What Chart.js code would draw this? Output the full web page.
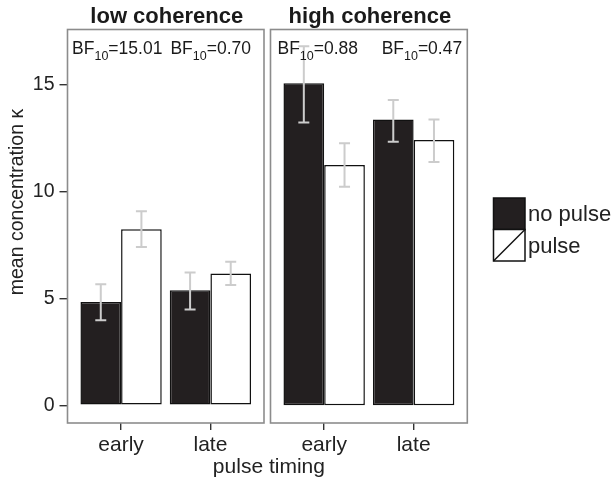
<!DOCTYPE html>
<html>
<head>
<meta charset="utf-8">
<script src="https://cdn.jsdelivr.net/npm/chart.js@4.4.1/dist/chart.umd.min.js"></script>
<style>
  body { margin: 0; background: #fff; }
  #wrap { position: relative; width: 613px; height: 480px; }
  #wrap canvas { position: absolute; left: 0; top: 0; }
</style>
</head>
<body>
<div id="wrap">
  <canvas id="lowChart" width="613" height="480"></canvas>
  <canvas id="highChart" width="613" height="480"></canvas>
</div>
<script>
// categories
var timing = ['early', 'late'];
var groups = ['no pulse', 'pulse'];
var panelNames = ['low coherence', 'high coherence'];
var yTicks = [0, 5, 10, 15];

// mean concentration (early, late)
var lowNoPulse = [4.84, 5.39];
var lowPulse = [8.24, 6.17];
var highNoPulse = [15.08, 13.39];
var highPulse = [11.25, 12.42];

// error bar ends (lower / upper)
var lowNoPulseLo = [3.98, 4.49];
var lowNoPulseHi = [5.67, 6.22];
var lowPulseLo = [7.41, 5.63];
var lowPulseHi = [9.09, 6.72];
var highNoPulseLo = [13.25, 12.34];
var highNoPulseHi = [16.81, 14.30];
var highPulseLo = [10.23, 11.40];
var highPulseHi = [12.27, 13.39];

// bayes factors per panel
var lowBF = ['15.01', '0.70'];
var highBF = ['0.88', '0.47'];

var FONT = '"Liberation Sans", Arial, Helvetica, sans-serif';
var DARK = '#231f20';
Chart.defaults.font.family = FONT;
Chart.defaults.color = '#222';

// error bars, panel box, strip title, BF labels
var panelDeco = {
    id: 'panelDeco',
    afterDatasetsDraw: function(chart) {
        var ctx = chart.ctx;
        var yScale = chart.scales.y;
        ctx.save();
        ctx.strokeStyle = '#cccccc';
        ctx.lineWidth = 2;
        chart.data.datasets.forEach(function(ds, d) {
            chart.getDatasetMeta(d).data.forEach(function(bar, i) {
                var top = yScale.getPixelForValue(ds.errHi[i]);
                var bot = yScale.getPixelForValue(ds.errLo[i]);
                ctx.beginPath();
                ctx.moveTo(bar.x, top); ctx.lineTo(bar.x, bot);
                ctx.moveTo(bar.x - 5.5, top); ctx.lineTo(bar.x + 5.5, top);
                ctx.moveTo(bar.x - 5.5, bot); ctx.lineTo(bar.x + 5.5, bot);
                ctx.stroke();
            });
        });
        ctx.restore();
    },
    afterDraw: function(chart, args, opts) {
        var ctx = chart.ctx;
        var a = chart.chartArea;
        var xScale = chart.scales.x;
        ctx.save();
        // panel border
        ctx.strokeStyle = '#8c8c8c';
        ctx.lineWidth = 1.6;
        ctx.strokeRect(a.left, a.top, a.right - a.left, a.bottom - a.top);

        // strip title
        ctx.fillStyle = '#1a1a1a';
        ctx.textBaseline = 'alphabetic';
        ctx.textAlign = 'center';
        ctx.font = 'bold 22px ' + FONT;
        ctx.fillText(opts.title, (a.left + a.right) / 2 + 1, a.top - 6.5);

        // BF10 labels
        ctx.textAlign = 'left';
        opts.bf.forEach(function(val, i) {
            var px = xScale.getPixelForValue(i) + opts.bfShift[i];
            var base = a.top + 24.5;
            ctx.font = '17.5px ' + FONT;
            ctx.fillText('BF', px, base);
            px += ctx.measureText('BF').width;
            ctx.font = '12.5px ' + FONT;
            ctx.fillText('10', px, base + 5.5);
            px += ctx.measureText('10').width;
            ctx.font = '17.5px ' + FONT;
            ctx.fillText('=' + val, px, base);
        });

        // y axis title (left panel only)
        if (opts.yLabel) {
            ctx.save();
            ctx.translate(23, 202);
            ctx.rotate(-Math.PI / 2);
            ctx.textAlign = 'center';
            ctx.font = '19.5px ' + FONT;
            ctx.fillStyle = '#222';
            ctx.fillText(opts.yLabel, 0, 0);
            ctx.restore();
        }

        // shared x title and legend (drawn once, on the right panel)
        if (opts.shared) {
            var first = Chart.getChart('lowChart');
            var mid = (first.chartArea.left + a.right) / 2 + 1.5;
            ctx.textAlign = 'center';
            ctx.font = '21px ' + FONT;
            ctx.fillStyle = '#222';
            ctx.fillText('pulse timing', mid, 473);

            var lx = 493.5, ly = 198, box = 31.5;
            chart.data.datasets.forEach(function(ds, d) {
                var by = ly + d * box;
                ctx.fillStyle = ds.backgroundColor;
                ctx.fillRect(lx, by, box, box);
                ctx.strokeStyle = '#111';
                ctx.lineWidth = 1.5;
                ctx.strokeRect(lx, by, box, box);
                if (d === 1) {
                    ctx.beginPath();
                    ctx.moveTo(lx, by + box);
                    ctx.lineTo(lx + box, by);
                    ctx.stroke();
                }
                ctx.fillStyle = '#222';
                ctx.textAlign = 'left';
                ctx.font = '22px ' + FONT;
                ctx.fillText(groups[d], lx + box + 3, by + box / 2 + 7.5);
            });
        }
        ctx.restore();
    }
};

function makePanel(id, noPulse, pulse, errs, deco, pad, showY) {
    var ctx = document.getElementById(id).getContext('2d');
    return new Chart(ctx, {
        type: 'bar',
        data: {
            datasets: [
                {
                    label: groups[0],
                    data: noPulse.map(function(v, i) { return {x: i, y: v}; }),
                    backgroundColor: DARK,
                    borderColor: '#111',
                    borderWidth: 1.5,
                    borderSkipped: false,
                    errLo: errs[0],
                    errHi: errs[1]
                },
                {
                    label: groups[1],
                    data: pulse.map(function(v, i) { return {x: i, y: v}; }),
                    backgroundColor: '#ffffff',
                    borderColor: '#111',
                    borderWidth: 1.5,
                    borderSkipped: false,
                    errLo: errs[2],
                    errHi: errs[3]
                }
            ]
        },
        options: {
            responsive: false,
            animation: false,
            events: [],
            categoryPercentage: 0.91,
            barPercentage: 1,
            layout: { padding: pad },
            scales: {
                x: {
                    type: 'linear',
                    min: -0.6,
                    max: 1.6,
                    offset: false,
                    afterBuildTicks: function(scale) {
                        scale.ticks = timing.map(function(t, i) { return {value: i}; });
                    },
                    afterFit: function(scale) { scale.height = 57; },
                    ticks: {
                        autoSkip: false,
                        maxRotation: 0,
                        padding: 3,
                        font: { size: 21 },
                        color: '#222',
                        callback: function(v) { return timing[v]; }
                    },
                    grid: {
                        offset: false,
                        drawOnChartArea: false,
                        tickLength: 7,
                        color: '#333',
                        lineWidth: 1.4
                    },
                    border: { display: false }
                },
                y: {
                    display: showY,
                    min: -0.83,
                    max: 17.6,
                    afterBuildTicks: function(scale) {
                        scale.ticks = yTicks.map(function(v) { return {value: v}; });
                    },
                    afterFit: function(scale) { scale.width = showY ? 67.5 : 0; },
                    ticks: {
                        padding: 5,
                        font: { size: 19.5 },
                        color: '#222'
                    },
                    grid: {
                        drawOnChartArea: false,
                        tickLength: 8,
                        color: '#333',
                        lineWidth: 1.4
                    },
                    border: { display: false }
                }
            },
            plugins: {
                legend: { display: false },
                tooltip: { enabled: false },
                panelDeco: deco
            }
        },
        plugins: [panelDeco]
    });
}

makePanel('lowChart', lowNoPulse, lowPulse,
    [lowNoPulseLo, lowNoPulseHi, lowPulseLo, lowPulseHi],
    { title: panelNames[0], bf: lowBF, bfShift: [-49, -40], yLabel: 'mean concentration \u03BA' },
    { left: 0, top: 29.5, right: 349, bottom: 0 }, true);

makePanel('highChart', highNoPulse, highPulse,
    [highNoPulseLo, highNoPulseHi, highPulseLo, highPulseHi],
    { title: panelNames[1], bf: highBF, bfShift: [-46.7, -32], shared: true },
    { left: 270.5, top: 29.5, right: 145.7, bottom: 0 }, false);
</script>
</body>
</html>
